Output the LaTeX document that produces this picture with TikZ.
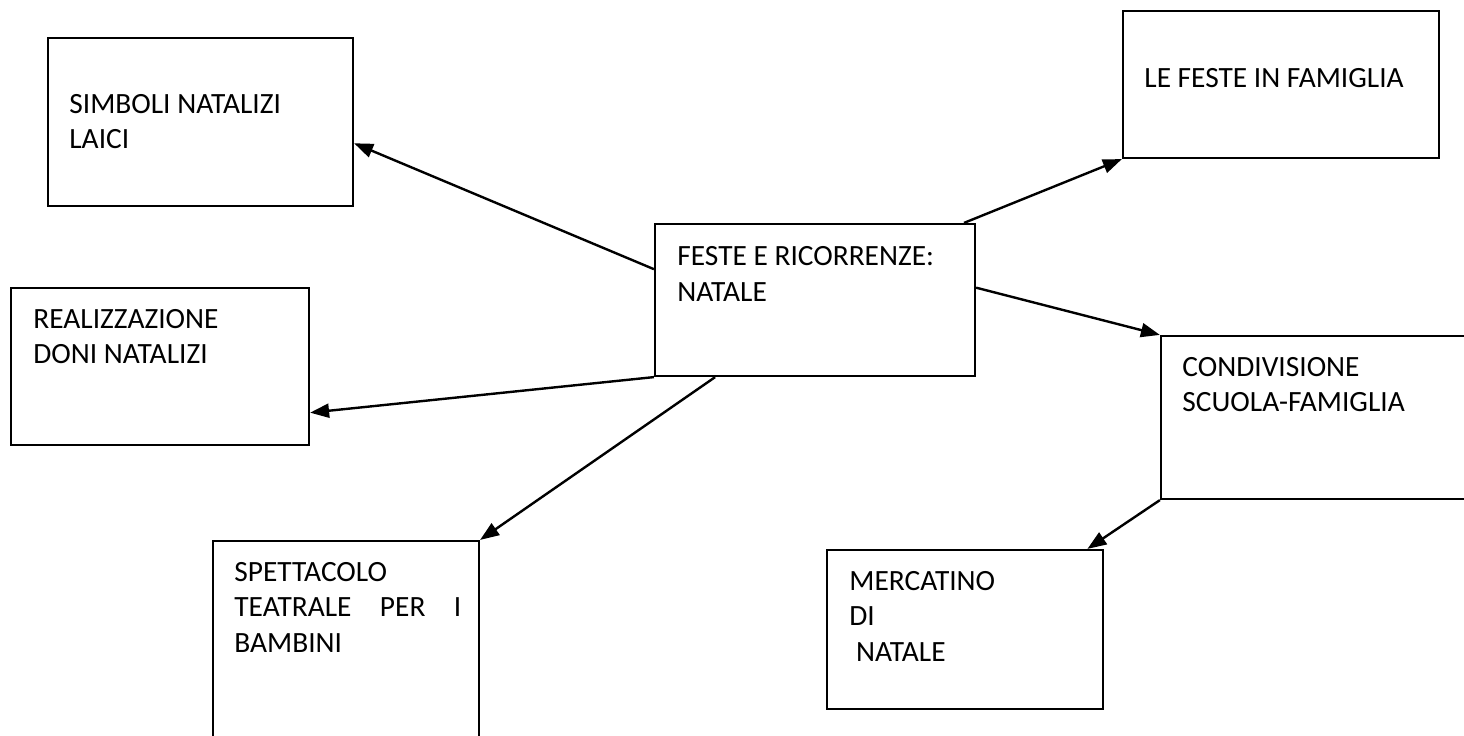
\documentclass[tikz,border=0pt]{standalone}
\usepackage{fontspec}
\setmainfont{Carlito}
\usetikzlibrary{fit,calc,arrows.meta}
\tikzset{
  box/.style={draw, line width=1.1pt, inner sep=0pt, rectangle},
  txt/.style={anchor=north west, inner sep=0pt, align=left, font=\fontsize{14.7pt}{17.75pt}\selectfont},
  arr/.style={line width=1.2pt, -{Triangle[length=9.5pt,width=7pt]}}
}
\begin{document}
\begin{tikzpicture}[x=0.5pt,y=-0.5pt]
\useasboundingbox (0,0) rectangle (1464,735);
\clip (0,0) rectangle (1464,735);
\node[box, fit={(48,38) (353,206)}] (simb) {};
\node[box, fit={(1123,11) (1439,158)}] (feste) {};
\node[box, fit={(655,224) (975,376)}] (cen) {};
\node[box, fit={(11,288) (309,445)}] (real) {};
\node[box, fit={(1161,336) (1490,499)}] (cond) {};
\node[box, fit={(213,541) (479,770)}] (spett) {};
\node[box, fit={(827,550) (1103,709)}] (merc) {};

\node[txt] (simbT) at (69,94) {SIMBOLI NATALIZI\\LAICI};
\node[txt] (festeT) at (1144,68) {LE FESTE IN FAMIGLIA};
\node[txt] (cenT) at (677,246.5) {FESTE E RICORRENZE:\\NATALE};
\node[txt] (realT) at (33,309) {REALIZZAZIONE\\DONI NATALIZI};
\node[txt] (condT) at (1182,357) {CONDIVISIONE\\SCUOLA-FAMIGLIA};
\node[txt] (spettT) at (234,562) {SPETTACOLO\\\makebox[113.5pt][s]{TEATRALE PER I}\\BAMBINI};
\node[txt] (mercT) at (849,571) {MERCATINO\\DI\\\hspace*{0.23em}NATALE};

\draw[arr] ($(cen.north west)!0.30!(cen.south west)$) -- ($(simb.north east)!0.625!(simb.south east)$);
\draw[arr] ($(cen.north west)!0.9625!(cen.north east)$) -- (feste.south west);
\draw[arr] ($(cen.north east)!0.42!(cen.south east)$) -- (cond.north west);
\draw[arr] (cen.south west) -- ($(real.north east)!0.79!(real.south east)$);
\draw[arr] ($(cen.south west)!0.19!(cen.south east)$) -- (spett.north east);
\draw[arr] (cond.south west) -- ($(merc.north west)!0.94!(merc.north east)$);
\end{tikzpicture}
\end{document}
